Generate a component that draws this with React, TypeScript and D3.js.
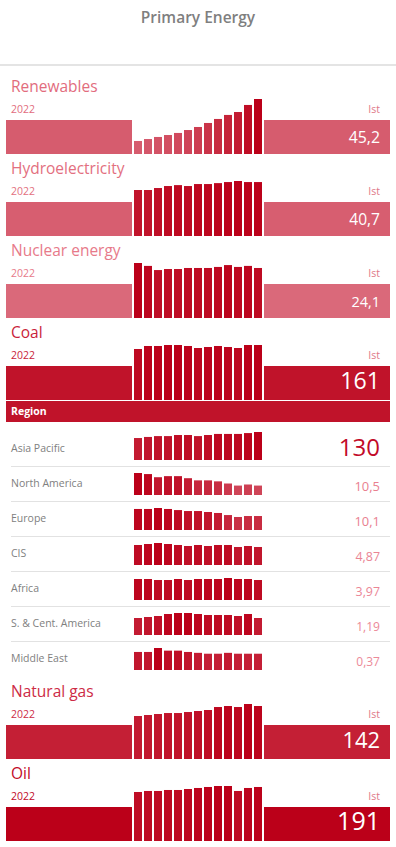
import React from "react";
import * as d3 from "d3";

const years = [2010, 2011, 2012, 2013, 2014, 2015, 2016, 2017, 2018, 2019, 2020, 2021, 2022];

const title = "Primary Energy";
const yearLabel = "2022";
const statusLabel = "Ist";
const regionHeader = "Region";

const sourceNamesTop = ["Renewables", "Hydroelectricity", "Nuclear energy", "Coal"];
const sourceNamesBottom = ["Natural gas", "Oil"];

const renewables = [10.7, 12.3, 14.0, 15.6, 17.3, 19.7, 22.2, 25.5, 28.8, 32.1, 34.5, 40.3, 45.2];
const hydro = [34.7, 34.7, 36.2, 37.7, 38.4, 37.7, 39.2, 39.2, 39.9, 40.7, 41.5, 40.7, 40.7];
const nuclear = [26.5, 25.1, 23.1, 23.6, 23.6, 24.1, 24.1, 24.1, 24.6, 25.5, 24.6, 25.1, 24.1];
const coal = [149.3, 158.1, 158.1, 161.0, 161.0, 158.1, 152.2, 155.1, 158.1, 155.1, 152.2, 161.0, 161.0];
const naturalGas = [115.2, 117.9, 120.6, 123.2, 123.2, 125.9, 128.6, 131.3, 139.3, 142.0, 139.3, 147.4, 142.0];
const oil = [173.3, 176.9, 176.9, 180.4, 180.4, 183.9, 187.5, 191.0, 194.5, 194.5, 176.9, 187.5, 191.0];

const regionNames = ["Asia Pacific", "North America", "Europe", "CIS", "Africa", "S. & Cent. America", "Middle East"];
const asiaPacific = [102, 107, 111, 111, 116, 116, 111, 116, 121, 121, 121, 125, 130];
const northAmerica = [24.5, 23.3, 19.8, 21.0, 21.0, 18.7, 16.3, 16.3, 15.2, 12.8, 10.5, 11.7, 10.5];
const europe = [15.2, 15.2, 15.9, 15.2, 14.4, 13.7, 13.7, 13.0, 12.3, 10.8, 9.4, 10.1, 10.1];
const cis = [5.41, 5.68, 5.95, 5.68, 5.41, 5.14, 5.41, 5.14, 5.41, 5.41, 4.87, 5.14, 4.87];
const africa = [4.17, 4.17, 3.97, 3.97, 4.17, 3.97, 4.17, 4.17, 4.17, 4.37, 4.17, 4.17, 3.97];
const southCentralAmerica = [1.19, 1.26, 1.33, 1.47, 1.54, 1.54, 1.47, 1.40, 1.40, 1.40, 1.33, 1.47, 1.19];
const middleEast = [0.41, 0.41, 0.50, 0.44, 0.44, 0.41, 0.39, 0.37, 0.37, 0.39, 0.37, 0.37, 0.37];

const topSeries = [renewables, hydro, nuclear, coal];
const bottomSeries = [naturalGas, oil];
const regionSeries = [asiaPacific, northAmerica, europe, cis, africa, southCentralAmerica, middleEast];

const FONT = "'Open Sans', 'Noto Sans', sans-serif";
const W = 396;

const fmt = (v: number) => {
  let s: string;
  if (v >= 100) s = d3.format(".0f")(v);
  else if (v >= 10) s = d3.format(".1f")(v);
  else s = d3.format(".2f")(v);
  return s.replace(".", ",");
};

const barColor = d3.interpolateRgb("#de7888", "#bb0019");
const textColor = d3.interpolateRgb("#ec8a98", "#c20a28");

const x = d3
  .scaleBand<number>()
  .domain(years)
  .range([133, 263])
  .paddingInner(0.2)
  .paddingOuter(0.1);

const allMain = [...topSeries, ...bottomSeries];
const mainMax = d3.max(allMain, (s) => s[s.length - 1]) as number;
const mainT = d3.scaleLinear().domain([0, mainMax]).range([0, 1]);
const mainFont = d3.scaleLinear().domain([0, mainMax]).range([13, 25]);

function Bars({ values, bottom, maxH }: { values: number[]; bottom: number; maxH: number }) {
  const mx = d3.max(values) as number;
  const h = d3.scaleLinear().domain([0, mx]).range([0, maxH]);
  return (
    <g>
      {values.map((v, i) => (
        <rect
          key={i}
          x={x(years[i])}
          y={bottom - h(v)}
          width={x.bandwidth()}
          height={h(v)}
          fill={barColor(v / mx)}
        />
      ))}
    </g>
  );
}

function MainSection({ name, values, top }: { name: string; values: number[]; top: number }) {
  const last = values[values.length - 1];
  const rectTop = top + 48;
  const rectBottom = top + 82;
  const t = mainT(last);
  const fill = barColor(t);
  const tc = textColor(t);
  return (
    <g>
      <text x={11} y={rectTop - 28} fontSize={15.5} fill={tc} fontFamily={FONT}>
        {name}
      </text>
      <text x={11} y={rectTop - 7} fontSize={10.5} fill={tc} fontFamily={FONT}>
        {yearLabel}
      </text>
      <text x={380} y={rectTop - 7} fontSize={10.5} fill="#e07888" textAnchor="end" fontFamily={FONT}>
        {statusLabel}
      </text>
      <rect x={6} y={rectTop} width={126} height={rectBottom - rectTop} fill={fill} />
      <rect x={264} y={rectTop} width={126} height={rectBottom - rectTop} fill={fill} />
      <Bars values={values} bottom={rectBottom} maxH={55} />
      <text
        x={380}
        y={rectBottom - 11}
        fontSize={mainFont(last)}
        fill="#ffffff"
        textAnchor="end"
        fontFamily={FONT}
      >
        {fmt(last)}
      </text>
    </g>
  );
}

export default function App() {
  const regionMax = d3.max(regionSeries, (s) => s[s.length - 1]) as number;
  const regionT = d3.scaleLinear().domain([0, regionMax]).range([0, 1]);
  const regionFont = d3.scaleLinear().domain([0, regionMax]).range([12, 24]);

  const rowTops: number[] = [];
  let yy = 422;
  regionNames.forEach((_, i) => {
    rowTops.push(yy);
    yy += i === 0 ? 44 : 35;
  });

  return (
    <div style={{ position: "absolute", left: 0, top: 0 }}>
      <svg width={W} height={847} style={{ display: "block" }}>
        <rect width={W} height={847} fill="#ffffff" />
        <text
          x={W / 2}
          y={23}
          textAnchor="middle"
          fontSize={15.5}
          fontWeight={600}
          fill="#7f7f7f"
          fontFamily={FONT}
        >
          {title}
        </text>
        <rect x={0} y={64} width={W} height={2} fill="#e4e4e4" />

        {sourceNamesTop.map((n, i) => (
          <MainSection key={n} name={n} values={topSeries[i]} top={72 + i * 82} />
        ))}

        <rect x={6} y={401} width={384} height={21} fill={barColor(mainT(coal[coal.length - 1]))} />
        <text x={11} y={415} fontSize={10.5} fontWeight={700} fill="#ffffff" fontFamily={FONT}>
          {regionHeader}
        </text>

        {regionNames.map((n, i) => {
          const vals = regionSeries[i];
          const last = vals[vals.length - 1];
          const top = rowTops[i];
          const rowH = i === 0 ? 44 : 35;
          const bottom = top + rowH;
          return (
            <g key={n}>
              {i > 0 && <rect x={11} y={top} width={379} height={1} fill="#e2e2e2" />}
              <text x={11} y={bottom - 14} fontSize={10.5} fill="#808080" fontFamily={FONT}>
                {n}
              </text>
              <Bars values={vals} bottom={bottom - 6} maxH={i === 0 ? 28 : 22} />
              <text
                x={380}
                y={bottom - 10}
                fontSize={regionFont(last)}
                fill={textColor(regionT(last))}
                textAnchor="end"
                fontFamily={FONT}
              >
                {fmt(last)}
              </text>
            </g>
          );
        })}

        {sourceNamesBottom.map((n, i) => (
          <MainSection key={n} name={n} values={bottomSeries[i]} top={677 + i * 82} />
        ))}
      </svg>
    </div>
  );
}
